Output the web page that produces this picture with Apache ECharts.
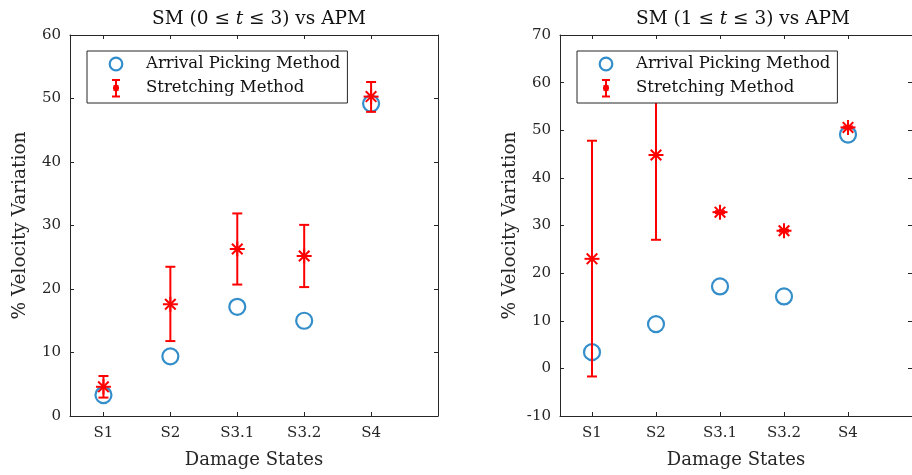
<!DOCTYPE html>
<html>
<head>
<meta charset="utf-8">
<script src="https://cdn.jsdelivr.net/npm/echarts@6/dist/echarts.min.js"></script>
<style>
  html, body { margin: 0; padding: 0; background: #fff; }
  #chart { width: 912px; height: 475px; }
</style>
</head>
<body>
<div id="chart"></div>
<script>
// Damage-state categories and their x positions
const categories = ['S1', 'S2', 'S3.1', 'S3.2', 'S4'];
const positions = [1, 2, 3, 4, 5];

// Left panel: SM (0 <= t <= 3) vs APM
const apmLeft = [3.3, 9.4, 17.2, 15.0, 49.2];
const smLeftMean = [4.6, 17.6, 26.3, 25.2, 50.3];
const smLeftLow = [2.9, 11.8, 20.7, 20.3, 47.9];
const smLeftHigh = [6.3, 23.5, 31.9, 30.1, 52.6];
const yTicksLeft = [0, 10, 20, 30, 40, 50, 60];

// Right panel: SM (1 <= t <= 3) vs APM
const apmRight = [3.4, 9.3, 17.2, 15.1, 49.1];
const smRightMean = [23.0, 44.8, 32.8, 28.9, 50.6];
const smRightLow = [-1.7, 27.0, 32.6, 28.7, 50.4];
const smRightHigh = [47.8, 62.6, 33.0, 29.1, 50.8];
const yTicksRight = [-10, 0, 10, 20, 30, 40, 50, 60, 70];

const APM_NAME = 'Arrival Picking Method';
const SM_NAME = 'Stretching Method';
const BLUE = '#0072BD';
const RED = '#FF0000';
const INK = '#262626';
const FONT = 'DejaVu Serif';

const chart = echarts.init(document.getElementById('chart'), null, { renderer: 'canvas' });

// Error bar with caps plus an asterisk marker at the mean
function errorBarItem(params, api) {
  const x = api.value(0);
  const pm = api.coord([x, api.value(1)]);
  const pl = api.coord([x, api.value(2)]);
  const ph = api.coord([x, api.value(3)]);
  const style = { stroke: RED, lineWidth: 2, fill: null };
  const cap = 5, s = 7.5, d = 5.3;
  const seg = (x1, y1, x2, y2) => ({ type: 'line', shape: { x1, y1, x2, y2 }, style });
  const children = [
    seg(pl[0], pl[1], ph[0], ph[1]),
    seg(ph[0] - cap, ph[1], ph[0] + cap, ph[1]),
    seg(pl[0] - cap, pl[1], pl[0] + cap, pl[1]),
    seg(pm[0] - s, pm[1], pm[0] + s, pm[1]),
    seg(pm[0], pm[1] - s, pm[0], pm[1] + s),
    seg(pm[0] - d, pm[1] - d, pm[0] + d, pm[1] + d),
    seg(pm[0] - d, pm[1] + d, pm[0] + d, pm[1] - d)
  ];
  return { type: 'group', children };
}

function smRows(mean, low, high) {
  return positions.map((p, i) => [p, mean[i], low[i], high[i]]);
}
function apmRows(vals) {
  return positions.map((p, i) => [p, vals[i]]);
}

// Legend icons drawn as small SVG images
function svgIcon(svg) {
  return 'image://data:image/svg+xml;charset=utf-8,' + encodeURIComponent(svg);
}
const circleIcon = svgIcon(
  '<svg xmlns="http://www.w3.org/2000/svg" width="20" height="20" viewBox="0 0 20 20">' +
  '<circle cx="10" cy="10" r="6.3" fill="none" stroke="' + BLUE + '" stroke-width="2.2"/></svg>'
);
const errBarIcon = svgIcon(
  '<svg xmlns="http://www.w3.org/2000/svg" width="12" height="20" viewBox="0 0 12 20">' +
  '<g stroke="' + RED + '" stroke-width="2" fill="none">' +
  '<line x1="2" y1="2" x2="10" y2="2"/><line x1="2" y1="18.5" x2="10" y2="18.5"/>' +
  '<line x1="6" y1="2" x2="6" y2="18.5"/>' +
  '<line x1="3" y1="10" x2="9" y2="10"/>' +
  '<line x1="3.6" y1="7.4" x2="8.4" y2="12.6"/><line x1="3.6" y1="12.6" x2="8.4" y2="7.4"/></g>' +
  '<ellipse cx="6" cy="10" rx="2.3" ry="3" fill="' + RED + '"/></svg>'
);

const grids = [
  { left: 70, top: 35, width: 368, height: 381 },
  { left: 560, top: 35, width: 355.5, height: 381 }
];

function xAxes(gridIndex, bottom) {
  return {
    type: 'value', gridIndex, position: bottom ? 'bottom' : 'top',
    min: 0.5, max: 6,
    name: bottom ? 'Damage States' : '',
    nameLocation: 'middle', nameGap: 35,
    nameTextStyle: { fontFamily: FONT, fontSize: 18, color: INK },
    axisLine: { show: true, onZero: false, lineStyle: { color: INK, width: 1 } },
    axisTick: { show: true, inside: true, length: 4, customValues: positions, lineStyle: { color: INK } },
    axisLabel: {
      show: bottom, customValues: positions, margin: 10,
      fontFamily: FONT, fontSize: 15, color: INK,
      formatter: v => categories[positions.indexOf(v)] || ''
    },
    splitLine: { show: false }
  };
}

function yAxes(gridIndex, ticks, left) {
  return {
    type: 'value', gridIndex, position: left ? 'left' : 'right',
    min: ticks[0], max: ticks[ticks.length - 1], interval: ticks[1] - ticks[0],
    name: left ? '% Velocity Variation' : '',
    nameLocation: 'middle', nameGap: 40, nameRotate: 90,
    nameTextStyle: { fontFamily: FONT, fontSize: 18.5, color: INK },
    axisLine: { show: true, onZero: false, lineStyle: { color: INK, width: 1 } },
    axisTick: { show: true, inside: true, length: 4, lineStyle: { color: INK } },
    axisLabel: { show: left, margin: 9, fontFamily: FONT, fontSize: 15, color: INK },
    splitLine: { show: false }
  };
}

function legendFor(left) {
  return {
    left, top: 51, orient: 'vertical',
    padding: [3, 7, 5, 4], itemGap: 4,
    itemWidth: 50, itemHeight: 20,
    backgroundColor: '#fff', borderColor: INK, borderWidth: 1,
    selectedMode: false,
    textStyle: { fontFamily: FONT, fontSize: 16.5, color: '#111' },
    data: [
      { name: APM_NAME, icon: circleIcon },
      { name: SM_NAME, icon: errBarIcon }
    ]
  };
}

function titleFor(cx, lo) {
  return {
    left: cx, top: 5, textAlign: 'center',
    text: '{a|SM (' + lo + ' ≤ }{i|t}{a| ≤ 3) vs APM}',
    textStyle: {
      rich: {
        a: { fontFamily: FONT, fontSize: 18.5, fontWeight: 'normal', color: '#111' },
        i: { fontFamily: FONT, fontSize: 18.5, fontWeight: 'normal', fontStyle: 'italic', color: '#111' }
      }
    }
  };
}

function panelSeries(idx, apm, mean, low, high) {
  return [
    {
      name: APM_NAME, type: 'scatter', xAxisIndex: idx * 2, yAxisIndex: idx * 2,
      data: apmRows(apm), symbol: 'circle', symbolSize: 16,
      itemStyle: { color: 'rgba(0,0,0,0)', borderColor: BLUE, borderWidth: 2.2 },
      emphasis: { disabled: true }, z: 2
    },
    {
      name: SM_NAME, type: 'custom', xAxisIndex: idx * 2, yAxisIndex: idx * 2,
      data: smRows(mean, low, high), encode: { x: 0, y: [1, 2, 3] },
      renderItem: errorBarItem, itemStyle: { color: RED }, z: 3
    }
  ];
}

chart.setOption({
  animation: false,
  backgroundColor: '#fff',
  title: [titleFor(254, 0), titleFor(738, 1)],
  grid: grids,
  xAxis: [xAxes(0, true), xAxes(0, false), xAxes(1, true), xAxes(1, false)],
  yAxis: [yAxes(0, yTicksLeft, true), yAxes(0, yTicksLeft, false), yAxes(1, yTicksRight, true), yAxes(1, yTicksRight, false)],
  legend: [legendFor(87), legendFor(577)],
  series: [
    ...panelSeries(0, apmLeft, smLeftMean, smLeftLow, smLeftHigh),
    ...panelSeries(1, apmRight, smRightMean, smRightLow, smRightHigh)
  ]
});
</script>
</body>
</html>
